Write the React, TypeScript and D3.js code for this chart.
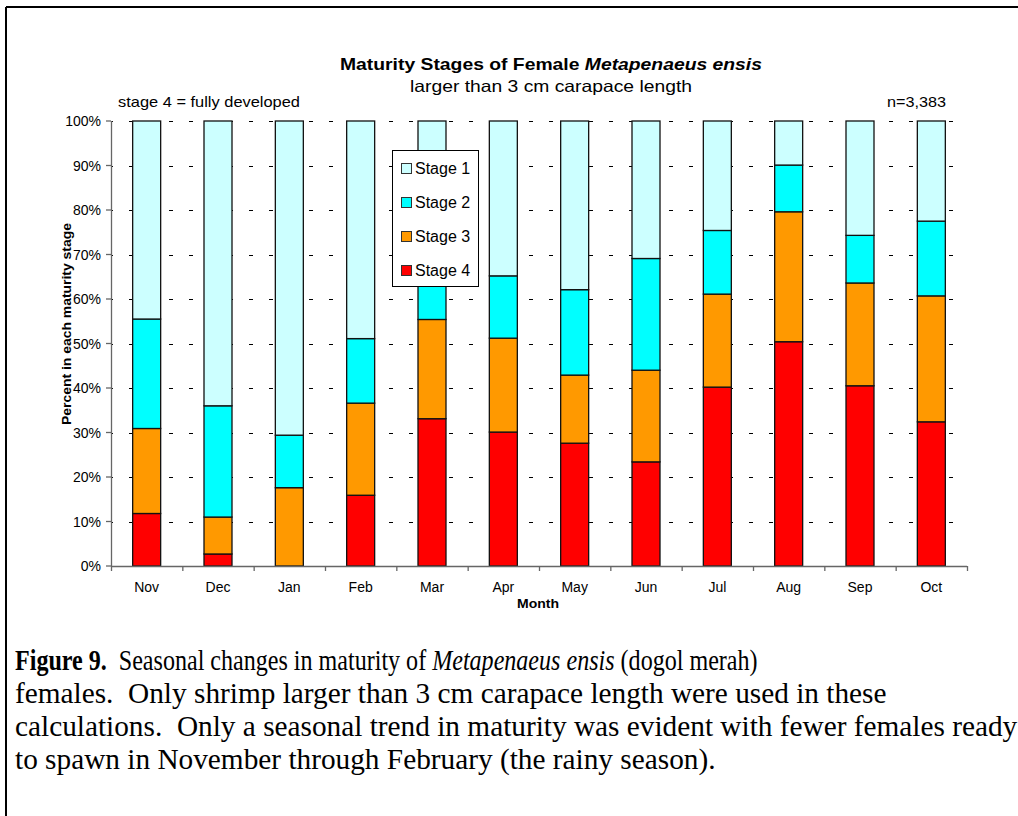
import React from "react";
import * as d3 from "d3";

const months = ["Nov", "Dec", "Jan", "Feb", "Mar", "Apr", "May", "Jun", "Jul", "Aug", "Sep", "Oct"];
const stageNames = ["Stage 1", "Stage 2", "Stage 3", "Stage 4"];
// percent per stage per month
const stage4 = [11.8, 2.7, 0, 15.9, 33.1, 30.1, 27.6, 23.4, 40.2, 50.4, 40.5, 32.4];
const stage3 = [19.1, 8.3, 17.6, 20.7, 22.3, 21.1, 15.3, 20.6, 20.9, 29.2, 23.1, 28.3];
const stage2 = [24.6, 25.0, 11.8, 14.5, 19.6, 14.0, 19.2, 25.1, 14.3, 10.5, 10.7, 16.8];
const stage1 = [44.5, 64.0, 70.6, 48.9, 25.0, 34.8, 37.9, 30.9, 24.6, 9.9, 25.7, 22.5];
const yTicks = [0, 10, 20, 30, 40, 50, 60, 70, 80, 90, 100];
const stageColors = ["#CCFFFF", "#00FFFF", "#FF9900", "#FF0000"];

const W = 1018;
const H = 816;
const left = 111;
const right = 967;
const top = 121;
const bottom = 566;

export default function App() {
  const x = d3.scaleBand<string>().domain(months).range([left, right]).paddingInner(0.6075).paddingOuter(0.30375);
  const y = d3.scaleLinear().domain([0, 100]).range([bottom, top]);
  const rows = months.map((m, i) => ({ month: m, s4: stage4[i], s3: stage3[i], s2: stage2[i], s1: stage1[i] }));
  const keys = ["s4", "s3", "s2", "s1"];
  const colorByKey: Record<string, string> = { s1: stageColors[0], s2: stageColors[1], s3: stageColors[2], s4: stageColors[3] };
  const series = d3.stack<any>().keys(keys)(rows);
  const step = x.step();
  const boundaries = d3.range(months.length + 1).map((i) => left + i * step);
  const sans = "'Liberation Sans', Arial, sans-serif";
  const serif = "'Liberation Serif', 'Times New Roman', serif";

  return (
    <svg width={W} height={H} style={{ position: "absolute", left: 0, top: 0, background: "#fff" }}>
      <rect x={0} y={0} width={W} height={H} fill="#fff" />
      {/* frame */}
      <line x1={6} y1={7} x2={W} y2={7} stroke="#000" strokeWidth={2} />
      <line x1={6} y1={7} x2={6} y2={H} stroke="#000" strokeWidth={2} />

      {/* titles */}
      <text x={340} y={70} fontFamily={sans} fontSize={17} fontWeight="bold" fill="#000" textLength={422} lengthAdjust="spacingAndGlyphs">
        Maturity Stages of Female <tspan fontStyle="italic">Metapenaeus ensis</tspan>
      </text>
      <text x={410} y={92} fontFamily={sans} fontSize={16.5} fill="#000" textLength={282} lengthAdjust="spacingAndGlyphs">
        larger than 3 cm carapace length
      </text>
      <text x={118} y={107} fontFamily={sans} fontSize={15} fill="#000" textLength={182} lengthAdjust="spacingAndGlyphs">stage 4 = fully developed</text>
      <text x={887} y={107} fontFamily={sans} fontSize={15} fill="#000" textLength={59} lengthAdjust="spacingAndGlyphs">n=3,383</text>

      {/* gridlines */}
      {yTicks.filter((t) => t > 0).map((t) => (
        <line key={t} x1={left} x2={right} y1={Math.round(y(t)) + 0.5} y2={Math.round(y(t)) + 0.5}
          stroke="#000" strokeWidth={1} strokeDasharray="4 16" strokeDashoffset={2} />
      ))}

      {/* bars */}
      {series.map((s) => (
        <g key={s.key} fill={colorByKey[s.key]}>
          {s.map((d, i) => (
            d[1] - d[0] > 0 ? (
              <rect key={i} x={x(months[i])!} width={x.bandwidth()} y={y(d[1])} height={y(d[0]) - y(d[1])}
                stroke="#111" strokeWidth={1.3} />
            ) : null
          ))}
        </g>
      ))}

      {/* axes */}
      <line x1={left + 0.5} x2={left + 0.5} y1={top} y2={bottom} stroke="#666" strokeWidth={1.3} />
      <line x1={left} x2={right} y1={bottom + 0.5} y2={bottom + 0.5} stroke="#666" strokeWidth={1.3} />
      {yTicks.map((t) => (
        <g key={t}>
          <line x1={left - 5} x2={left} y1={y(t)} y2={y(t)} stroke="#666" strokeWidth={1.3} />
          <text x={101} y={y(t) + 5} textAnchor="end" fontFamily={sans} fontSize={14} fill="#000">{t}%</text>
        </g>
      ))}
      {boundaries.map((b, i) => (
        <line key={i} x1={b + 0.5} x2={b + 0.5} y1={bottom} y2={bottom + 5} stroke="#666" strokeWidth={1.3} />
      ))}
      {months.map((m) => (
        <text key={m} x={x(m)! + x.bandwidth() / 2} y={592} textAnchor="middle" fontFamily={sans} fontSize={14} fill="#000">{m}</text>
      ))}
      <text x={517} y={608} fontFamily={sans} fontSize={13} fontWeight="bold" fill="#000" textLength={42} lengthAdjust="spacingAndGlyphs">Month</text>
      <text transform={`translate(71,${425}) rotate(-90)`} fontFamily={sans} fontSize={13} fontWeight="bold" fill="#000" textLength={202} lengthAdjust="spacingAndGlyphs">
        Percent in each maturity stage
      </text>

      {/* legend */}
      <rect x={392.5} y={150.5} width={86} height={136} fill="#fff" stroke="#000" strokeWidth={1} />
      {stageNames.map((n, i) => (
        <g key={n}>
          <rect x={401.5} y={163.5 + i * 34} width={10} height={10} fill={stageColors[i]} stroke="#333" strokeWidth={1} />
          <text x={415} y={174 + i * 34} fontFamily={sans} fontSize={16} fill="#000">{n}</text>
        </g>
      ))}

      {/* caption */}
      <text fontFamily={serif} fontSize={29.3} fill="#000" style={{ whiteSpace: "pre" }} transform="translate(15,670) scale(0.8217,1)">
        <tspan fontWeight="bold">Figure 9.</tspan>  Seasonal changes in maturity of <tspan fontStyle="italic">Metapenaeus ensis</tspan> (dogol merah)
      </text>
      <text fontFamily={serif} fontSize={29.3} fill="#000" style={{ whiteSpace: "pre" }}>
        <tspan x={15} y={703}>females.  Only shrimp larger than 3 cm carapace length were used in these</tspan>
        <tspan x={15} y={736}>calculations.  Only a seasonal trend in maturity was evident with fewer females ready</tspan>
        <tspan x={15} y={769}>to spawn in November through February (the rainy season).</tspan>
      </text>
    </svg>
  );
}
